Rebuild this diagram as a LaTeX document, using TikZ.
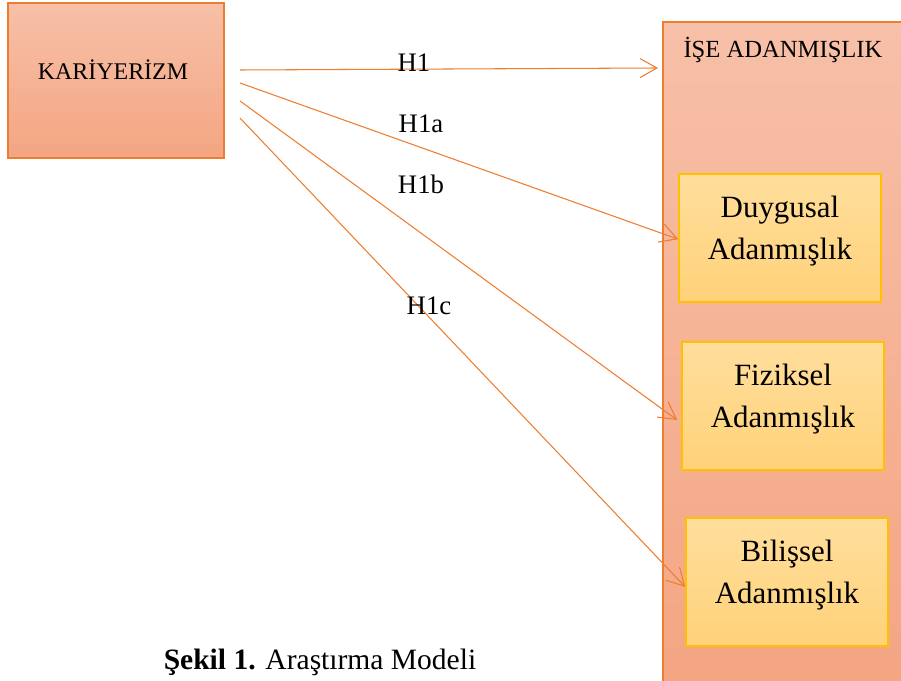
\documentclass[tikz,border=0pt]{standalone}
\usepackage{fontspec}
\setmainfont{Liberation Serif}
\usetikzlibrary{arrows.meta}
\definecolor{salmontop}{RGB}{247,192,168}
\definecolor{salmonbot}{RGB}{244,165,130}
\definecolor{yeltop}{RGB}{255,222,156}
\definecolor{yelbot}{RGB}{255,210,122}
\definecolor{yelline}{RGB}{255,192,0}
\definecolor{orline}{RGB}{237,125,49}
\tikzset{
    mainbox/.style={draw=orline, line width=1.2pt, top color=salmontop, bottom color=salmonbot},
    subbox/.style={draw=yelline, line width=1.2pt, top color=yeltop, bottom color=yelbot,
        minimum width=5.05cm, minimum height=3.2cm, align=center, text depth=14pt,
        font=\fontsize{22}{30}\selectfont},
    hyp/.style={draw=orline, line width=0.75pt, -{Straight Barb[length=12pt,width=13.5pt]}},
    hlabel/.style={font=\fontsize{19}{22}\selectfont}
}
\begin{document}
\begin{tikzpicture}[x=0.025cm, y=-0.025cm]
    \useasboundingbox (0,0) rectangle (901,681);
    \begin{scope}
        \clip (0,0) rectangle (901,681);
        % outer box on the right
        \path[mainbox] (663,22) rectangle (910,690);
    \end{scope}
    \node (ise) at (783,50) {\fontsize{17.5}{20}\selectfont İŞE ADANMIŞLIK};

    \node[mainbox, minimum width=5.4cm, minimum height=3.875cm] (kariyer) at (116,80.5) {};
    \node (kariyertxt) at (113,70) {\fontsize{17}{20}\selectfont KARİYERİZM};

    \node[subbox] (duy) at (780,238) {Duygusal\\Adanmışlık};
    \node[subbox] (fiz) at (783,406) {Fiziksel\\Adanmışlık};
    \node[subbox] (bil) at (787,582) {Bilişsel\\Adanmışlık};

    \coordinate (s1) at (240,70);
    \coordinate (s2) at (240,83);
    \coordinate (s3) at (240,101);
    \coordinate (s4) at (240,118);
    \coordinate (e1) at (658,68);

    \draw[hyp] (s1) -- (e1);
    \draw[hyp] (s2) -- ([yshift=-0.03cm]duy.west);
    \draw[hyp] (s3) -- ([xshift=-0.1cm,yshift=-0.35cm]fiz.west);
    \draw[hyp] (s4) -- ([yshift=-0.12cm]bil.west);

    \node[hlabel] (h1) at (414,63) {H1};
    \node[hlabel] (h1a) at (421,124) {H1a};
    \node[hlabel] (h1b) at (421,184) {H1b};
    \node[hlabel] (h1c) at (429,306) {H1c};

    \node[font=\fontsize{21}{24}\selectfont] (caption) at (320,662)
        {\textbf{Şekil 1.} Araştırma Modeli};
\end{tikzpicture}
\end{document}
